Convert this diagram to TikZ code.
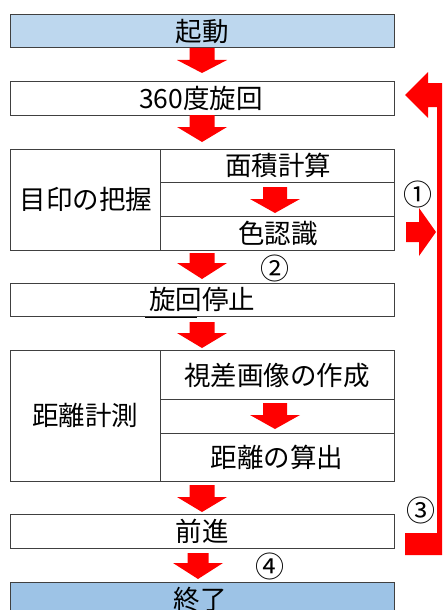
\documentclass[tikz,border=0pt]{standalone}
\usepackage{fontspec}
\newfontfamily\jp{Noto Sans CJK JP}
\definecolor{boxline}{HTML}{404040}
\definecolor{startfill}{HTML}{BDD7EE}
\definecolor{endfill}{HTML}{9DC3E6}
\definecolor{arrred}{HTML}{FF0000}
\newcommand\blkarr[6]{\fill[arrred] (#1-#5,#2) -- (#1+#5,#2) -- (#1+#5,#3) -- (#1+#6,#3) -- (#1,#4) -- (#1-#6,#3) -- (#1-#5,#3) -- cycle;}
\begin{document}
\begin{tikzpicture}[x=1pt,y=-1pt,
  box/.style={draw=boxline,line width=1pt,rectangle,inner sep=0pt,outer sep=0pt,minimum width=384pt},
  lbl/.style={font=\jp\fontsize{26.5}{28}\selectfont,inner sep=0pt},
  num/.style={font=\jp\fontsize{29}{30}\selectfont,inner sep=0pt}]
\useasboundingbox (0,0) rectangle (443,610);
\clip (0,0) rectangle (443,610);
% boxes
\node[box,fill=startfill,minimum height=33pt] (start) at (202,31.5) {};
\node[lbl] (startt) at (202,31.5) {起動};
\node[box,fill=white,minimum height=34pt] (rot) at (202,98) {};
\node[lbl] (rott) at (201,98) {360度旋回};
\node[box,minimum height=101pt] (mark) at (202,199.5) {};
\draw[boxline,line width=1pt] (160,149) -- (160,250);
\draw[boxline,line width=1pt] (160,182) -- (394,182);
\draw[boxline,line width=1pt] (160,216) -- (394,216);
\node[lbl] (markt) at (86,199.5) {目印の把握};
\node[lbl] (area) at (278,165.5) {面積計算};
\node[lbl] (colr) at (278,233) {色認識};
\node[box,minimum height=33pt] (stop) at (202,299.5) {};
\node[lbl] (stopt) at (202,299.5) {旋回停止};
\draw[black,line width=1pt] (145,317) -- (197,317);
\node[box,minimum height=131pt] (dist) at (202,415.5) {};
\draw[boxline,line width=1pt] (160,350) -- (160,481);
\draw[boxline,line width=1pt] (160,399) -- (394,399);
\draw[boxline,line width=1pt] (160,433) -- (394,433);
\node[lbl] (distt) at (85,415.5) {距離計測};
\node[lbl] (para) at (277,375) {視差画像の作成};
\node[lbl] (calc) at (277,457) {距離の算出};
\node[box,minimum height=34pt] (fwd) at (202,531) {};
\node[lbl] (fwdt) at (202,531) {前進};
\node[box,fill=endfill,minimum height=34pt] (end) at (202,599) {};
\node[lbl] (endt) at (200,599) {終了};
% block arrows
\blkarr{202}{48}{60}{73}{12.5}{25}
\blkarr{202}{115}{127}{142}{12.5}{25}
\blkarr{275}{187}{199}{213}{12}{25}
\blkarr{202}{253}{263}{279}{12.5}{25}
\blkarr{202}{322}{333}{348}{12.5}{25}
\blkarr{275}{403}{415}{429}{12}{25}
\blkarr{202}{485}{497}{512}{12.5}{25}
\blkarr{198}{553}{563}{579}{10.5}{25}
% loop arrow
\fill[arrred] (405,95) -- (428,72) -- (428,83) -- (442,83) -- (442,555) -- (405,555) -- (405,533) -- (437,533) -- (437,107) -- (428,107) -- (428,118) -- cycle;
% arrow 1
\fill[arrred] (406,222) -- (419,222) -- (419,208) -- (436,232) -- (419,256) -- (419,242) -- (406,242) -- cycle;
% numbers
\node[num] (n1) at (417.5,194) {①};
\node[num] (n2) at (275,268) {②};
\node[num] (n3) at (421,510) {③};
\node[num] (n4) at (270,566) {④};
\end{tikzpicture}
\end{document}
